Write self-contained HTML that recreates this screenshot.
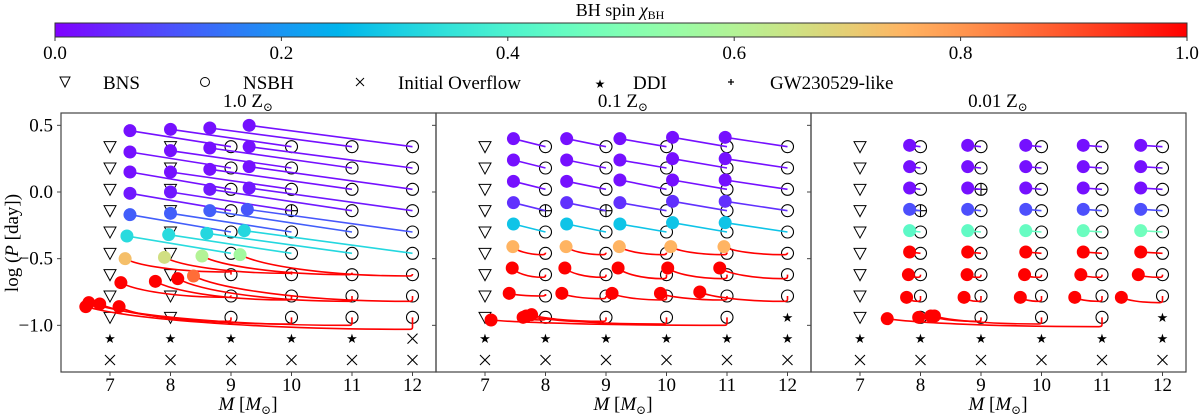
<!DOCTYPE html>
<html><head><meta charset="utf-8"><style>
html,body{margin:0;padding:0;background:#fff;}
svg{display:block;}
text{font-family:"Liberation Serif","DejaVu Serif",serif;}
text.star{font-family:"DejaVu Sans",sans-serif;}
</style></head><body>
<svg id="fig" width="1200" height="414" viewBox="0 0 1200 414" xmlns="http://www.w3.org/2000/svg">
<defs>
<linearGradient id="cbgrad" x1="0" x2="1" y1="0" y2="0"></linearGradient>
</defs>
<rect x="55" y="23" width="1132" height="14" fill="url(#cbgrad)" stroke="#333" stroke-width="1"/>
<text x="620" y="16" font-size="18" text-anchor="middle">BH spin <tspan font-style="italic">χ</tspan><tspan font-size="12" dy="3">BH</tspan></text>
<g id="cbticks"></g>
<g font-size="19">
 <g><path d="M60,77 L70,77 L65,87 Z" fill="none" stroke="#000" stroke-width="1"/><text x="103" y="89">BNS</text></g>
 <g><circle cx="205" cy="82" r="4.5" fill="none" stroke="#000"/><text x="243" y="89">NSBH</text></g>
 <g><path d="M356,78 L364,86 M364,78 L356,86" stroke="#000" stroke-width="1"/><text x="398" y="89">Initial Overflow</text></g>
 <g><text class="star" x="600" y="88" font-size="12" text-anchor="middle">★</text><text x="633" y="89">DDI</text></g>
 <g><path d="M728,82 L734,82 M731,79 L731,85" stroke="#000" stroke-width="1.3"/><text x="770" y="89">GW230529-like</text></g>
</g>
<g id="panels"></g>
<text transform="translate(18,243) rotate(-90)" font-size="19" text-anchor="middle">log (<tspan font-style="italic">P</tspan> [day])</text>
</svg>
<script>
// ---- data ----
const rowsP = [0.34,0.18,0.02,-0.14,-0.30,-0.46,-0.62,-0.78,-0.94];
const starP = -1.10, crossP = -1.26;
const massTicks = [7,8,9,10,11,12];
const yTicks = [0.5,0.0,-0.5,-1.0];
const yTickLabels = ["0.5","0.0","\u22120.5","\u22121.0"];
const cbTicks = [0.0,0.2,0.4,0.6,0.8,1.0];
const cbTickLabels = ["0.0","0.2","0.4","0.6","0.8","1.0"];
const panelTitles = ["1.0","0.1","0.01"];
// marker grids: per column (M=7..12), 11 rows (9 period rows, star row, cross row); T=BNS, C=NSBH, S=DDI, X=overflow
const grid1 = ["TTTTTTTTTSX","TTTTTTTTTSX","CCCCCCCCCSX","CCCCCCCCCSX","CCCCCCCCCSX","CCCCCCCCCXX"];
const grid2 = ["TTTTTTTTTSX","CCCCCCCCCSX","CCCCCCCCCSX","CCCCCCCCCSX","CCCCCCCCCSX","CCCCCCCCSSX"];
const grid3 = ["TTTTTTTTTSX","CCCCCCCCCSX","CCCCCCCCCSX","CCCCCCCCCSX","CCCCCCCCCSX","CCCCCCCCSSX"];
const plus1M = [10], plus1R = [3];
const plus2M = [8,9], plus2R = [3,3];
const plus3M = [9,8], plus3R = [2,3];
// tracks: start mass, start row, final mass, final logP, spin, dip (null = straight)
const p1StartM = [9,10,11,12, 9,10,11,12, 9,10,11,12, 9,10,11,12, 9,10,11,12, 9,10,11,12, 9,10,11,12, 9,10,11,12, 9,10,11,12];
const p1StartR = [0,0,0,0, 1,1,1,1, 2,2,2,2, 3,3,3,3, 4,4,4,4, 5,5,5,5, 6,6,6,6, 7,7,7,7, 8,8,8,8];
const p1EndM = [7.33,8.0,8.65,9.3, 7.33,8.0,8.65,9.3, 7.33,8.0,8.65,9.3, 7.33,8.0,8.65,9.3, 7.33,8.0,8.65,9.27, 7.28,7.97,8.6,9.22, 7.25,7.9,8.52,9.15, 7.18,7.75,8.12,8.38, 7.15,6.83,6.65,6.6];
const p1EndP = [0.46,0.47,0.48,0.50, 0.30,0.31,0.33,0.34, 0.15,0.15,0.17,0.19, -0.01,0.0,0.02,0.03, -0.17,-0.16,-0.14,-0.13, -0.33,-0.32,-0.31,-0.29, -0.50,-0.49,-0.48,-0.47, -0.68,-0.67,-0.65,-0.63, -0.86,-0.84,-0.83,-0.86];
const p1Spin = [0.02,0.02,0.02,0.02, 0.02,0.02,0.02,0.02, 0.02,0.02,0.02,0.02, 0.03,0.03,0.03,0.03, 0.12,0.12,0.12,0.11, 0.33,0.33,0.32,0.32, 0.73,0.66,0.6,0.57, 1,1,1,0.86, 1,1,1,1];
const p1Dip = [null,null,null,null, null,null,null,null, null,null,null,null, null,null,null,null, null,null,null,null, null,null,null,null, -0.6,-0.61,-0.62,-0.63, -0.79,-0.81,-0.82,-0.82, -0.97,-0.99,-1.0,-1.03];
const p2StartM = [8,9,10,11,12, 8,9,10,11,12, 8,9,10,11,12, 8,9,10,11,12, 8,9,10,11,12, 8,9,10,11,12, 8,9,10,11,12, 8,9,10,11,12, 8,9,10,11];
const p2StartR = [0,0,0,0,0, 1,1,1,1,1, 2,2,2,2,2, 3,3,3,3,3, 4,4,4,4,4, 5,5,5,5,5, 6,6,6,6,6, 7,7,7,7,7, 8,8,8,8];
const p2EndM = [7.47,8.35,9.23,10.1,10.97, 7.47,8.35,9.23,10.1,10.97, 7.47,8.35,9.23,10.1,10.97, 7.47,8.35,9.23,10.1,10.97, 7.47,8.35,9.23,10.1,10.97, 7.46,8.34,9.22,10.07,10.95, 7.45,8.32,9.2,10.02,10.88, 7.4,8.27,9.1,9.9,10.55, 7.63,7.77,7.68,7.1];
const p2EndP = [0.40,0.40,0.40,0.41,0.41, 0.24,0.24,0.24,0.25,0.25, 0.08,0.08,0.09,0.09,0.09, -0.08,-0.08,-0.08,-0.07,-0.07, -0.24,-0.24,-0.24,-0.23,-0.23, -0.41,-0.41,-0.41,-0.41,-0.41, -0.57,-0.57,-0.57,-0.57,-0.57, -0.76,-0.76,-0.76,-0.76,-0.75, -0.94,-0.92,-0.93,-0.96];
const p2Spin = [0.02,0.02,0.02,0.02,0.02, 0.02,0.02,0.02,0.02,0.02, 0.02,0.02,0.02,0.02,0.02, 0.06,0.06,0.06,0.06,0.06, 0.28,0.28,0.28,0.28,0.28, 0.75,0.75,0.75,0.75,0.75, 1,1,1,1,1, 1,1,1,1,1, 1,1,1,1];
const p2Dip = [null,null,null,null,null, null,null,null,null,null, null,null,null,null,null, null,null,null,null,null, null,null,null,null,null, -0.47,-0.47,-0.47,-0.47,-0.47, -0.64,-0.64,-0.65,-0.65,-0.65, -0.78,-0.8,-0.81,-0.81,-0.82, -0.96,-0.97,-0.99,-1.0];
const p3StartM = [8,9,10,11,12, 8,9,10,11,12, 8,9,10,11,12, 8,9,10,11,12, 8,9,10,11,12, 8,9,10,11,12, 8,9,10,11,12, 8,9,10,11,12, 8,9,10,11];
const p3StartR = [0,0,0,0,0, 1,1,1,1,1, 2,2,2,2,2, 3,3,3,3,3, 4,4,4,4,4, 5,5,5,5,5, 6,6,6,6,6, 7,7,7,7,7, 8,8,8,8];
const p3EndM = [7.82,8.78,9.74,10.69,11.64, 7.82,8.78,9.74,10.69,11.64, 7.82,8.78,9.74,10.69,11.64, 7.82,8.78,9.74,10.69,11.64, 7.82,8.78,9.74,10.69,11.64, 7.82,8.78,9.74,10.69,11.64, 7.8,8.77,9.72,10.65,11.6, 7.77,8.72,9.65,10.55,11.32, 7.97,8.17,8.23,7.45];
const p3EndP = [0.35,0.35,0.35,0.35,0.35, 0.19,0.19,0.19,0.19,0.19, 0.03,0.03,0.03,0.03,0.03, -0.13,-0.13,-0.13,-0.13,-0.13, -0.29,-0.29,-0.29,-0.29,-0.29, -0.45,-0.45,-0.45,-0.45,-0.45, -0.62,-0.62,-0.62,-0.62,-0.62, -0.79,-0.79,-0.79,-0.79,-0.79, -0.94,-0.93,-0.93,-0.95];
const p3Spin = [0.02,0.02,0.02,0.02,0.02, 0.02,0.02,0.02,0.02,0.02, 0.02,0.02,0.02,0.02,0.02, 0.1,0.1,0.1,0.1,0.1, 0.43,0.44,0.45,0.46,0.47, 1,1,1,1,1, 1,1,1,1,1, 1,1,1,1,1, 1,1,1,1];
const p3Dip = [null,null,null,null,null, null,null,null,null,null, null,null,null,null,null, null,null,null,null,null, null,null,null,null,null, null,null,null,null,null, -0.64,-0.64,-0.64,-0.64,-0.64, -0.82,-0.82,-0.82,-0.82,-0.83, -0.96,-0.97,-0.99,-1.01];

// ---- drawing ----
const NS = "http://www.w3.org/2000/svg";
function mk(tag, attrs, parent){ const e=document.createElementNS(NS,tag); for(const k in attrs) e.setAttribute(k,attrs[k]); parent.appendChild(e); return e; }
function cmap(x){ x=Math.max(0,Math.min(1,x)); const r=Math.min(1,Math.abs(2*x-0.5)), g=Math.sin(Math.PI*x), b=Math.cos(Math.PI*x/2);
  const h=v=>Math.round(Math.max(0,Math.min(1,v))*255).toString(16).padStart(2,'0'); return '#'+h(r)+h(g)+h(b); }
const grad=document.getElementById('cbgrad');
for(let i=0;i<=20;i++){ mk('stop',{offset:(i/20),'stop-color':cmap(i/20)},grad); }
const cbX = v => 55 + v*1132;
const cbt=document.getElementById('cbticks');
cbTicks.forEach((v,i)=>{ mk('line',{x1:cbX(v),x2:cbX(v),y1:37,y2:41,stroke:'#333'},cbt);
  const t=mk('text',{x:cbX(v),y:59,'font-size':19,'text-anchor':'middle'},cbt); t.textContent=cbTickLabels[i];
  
   });

const panelsG=document.getElementById('panels');
const grids=[grid1,grid2,grid3];
const plusM=[plus1M,plus2M,plus3M], plusR=[plus1R,plus2R,plus3R];
const tr=[[p1StartM,p1StartR,p1EndM,p1EndP,p1Spin,p1Dip],[p2StartM,p2StartR,p2EndM,p2EndP,p2Spin,p2Dip],[p3StartM,p3StartR,p3EndM,p3EndP,p3Spin,p3Dip]];
for(let p=0;p<3;p++){
  const off=p*375;
  const X=m=>110+off+(m-7)*60.5;
  const Y=v=>192-v*133.33;
  const g=mk('g',{},panelsG);
  
  
  const tt=mk('text',{x:248+off,y:107,'font-size':19,'text-anchor':'middle'},g);
  tt.innerHTML=panelTitles[p]+' Z<tspan font-size="12" dy="4">⊙</tspan>';
  
  
  mk('rect',{x:61+off,y:113,width:375,height:259,fill:'none',stroke:'#444','stroke-width':1.2},g);
  massTicks.forEach(m=>{ mk('line',{x1:X(m),x2:X(m),y1:372,y2:376,stroke:'#444'},g);
    const t=mk('text',{x:X(m),y:391,'font-size':19,'text-anchor':'middle'},g); t.textContent=m;
    
     });
  yTicks.forEach((v,i)=>{ mk('line',{x1:61+off-4,x2:61+off,y1:Y(v),y2:Y(v),stroke:'#444'},g);
    if(p===0){ const t=mk('text',{x:53,y:Y(v)+6,'font-size':19,'text-anchor':'end'},g); t.textContent=yTickLabels[i];
      
       } });
  const xl=mk('text',{x:248+off,y:410,'font-size':19,'text-anchor':'middle'},g);
  xl.innerHTML='<tspan font-style="italic">M</tspan> [<tspan font-style="italic">M</tspan><tspan font-size="12" dy="4">⊙</tspan><tspan dy="-4">]</tspan>';
  
  
  const grid=grids[p];
  grid.forEach((col,ci)=>{ const m=massTicks[ci];
    for(let r=0;r<col.length;r++){ const ty=col[r]; const v=r<9?rowsP[r]:(r===9?starP:crossP); const cx=X(m), cy=Y(v);
      let e;
      if(ty==='T'){ e=mk('path',{d:`M${cx-6},${cy-5} L${cx+6},${cy-5} L${cx},${cy+6} Z`,fill:'none',stroke:'#000','stroke-width':1},g);  }
      else if(ty==='C'){ e=mk('circle',{cx:cx,cy:cy,r:6,fill:'none',stroke:'#000','stroke-width':1.1},g);  }
      else if(ty==='S'){ e=mk('text',{x:cx,y:cy+4.5,'font-size':13,'text-anchor':'middle','class':'star'},g); e.textContent='★';  }
      else { e=mk('path',{d:`M${cx-5},${cy-5} L${cx+5},${cy+5} M${cx+5},${cy-5} L${cx-5},${cy+5}`,stroke:'#000','stroke-width':1.1},g);  }
      
    } });
  plusM[p].forEach((m,i)=>{ const cx=X(m), cy=Y(rowsP[plusR[p][i]]);
    const e=mk('path',{d:`M${cx-6},${cy} L${cx+6},${cy} M${cx},${cy-6} L${cx},${cy+6}`,stroke:'#000','stroke-width':1.1},g);
    
     });
  const [sM,sR,eM,eP,sp,dip]=tr[p];
  const lines=mk('g',{},g), dots=mk('g',{},g);
  for(let i=0;i<sM.length;i++){
    const x0=X(sM[i]), y0=Y(rowsP[sR[i]]), x1=X(eM[i]), y1=Y(eP[i]); const col=cmap(sp[i]);
    let d, lc=col;
    if(dip[i]===null){ d=`M${x0},${y0} L${x1},${y1}`; }
    else { lc='#ff0000'; const yd=Y(dip[i]); const xm=x0-3;
      d=`M${x0},${y0} L${x0},${yd-2} Q${x0},${yd} ${xm},${yd} C${xm-(xm-x1)*0.5},${yd} ${x1+(xm-x1)*0.12},${y1+(yd-y1)*0.5} ${x1},${y1}`; }
    const ln=mk('path',{d:d,fill:'none',stroke:lc,'stroke-width':1.6},lines);
    
    
    const c=mk('circle',{cx:x1,cy:y1,r:6.5,fill:col},dots);
    
    
  }
}
</script>
</body></html>
